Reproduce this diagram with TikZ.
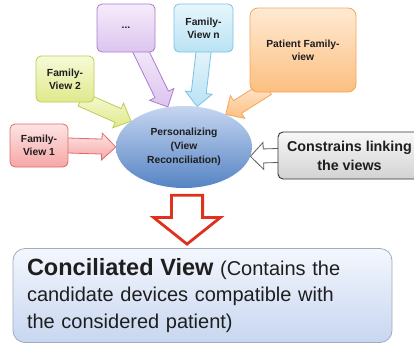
\documentclass[tikz,border=0pt]{standalone}
\usepackage{fontspec}
\setmainfont{Liberation Sans}
\usetikzlibrary{shapes.geometric,calc}
\pgfdeclarelayer{background}
\pgfsetlayers{background,main}

% box and arrow palettes: light top, deeper bottom, border
\definecolor{redTop}{HTML}{FDE4E4}\definecolor{redBot}{HTML}{F6A6A6}\definecolor{redLine}{HTML}{E06A6A}
\definecolor{ylwTop}{HTML}{F7FAD8}\definecolor{ylwBot}{HTML}{DFE98B}\definecolor{ylwLine}{HTML}{BCCD55}
\definecolor{vioTop}{HTML}{F6ECFB}\definecolor{vioBot}{HTML}{DCC4EF}\definecolor{vioLine}{HTML}{A87DCC}
\definecolor{cyaTop}{HTML}{E8F6FC}\definecolor{cyaBot}{HTML}{B9E2F4}\definecolor{cyaLine}{HTML}{78C3E2}
\definecolor{orgTop}{HTML}{FFEAD4}\definecolor{orgBot}{HTML}{FCBF80}\definecolor{orgLine}{HTML}{F5A65B}
\definecolor{gryTop}{HTML}{F8F8F8}\definecolor{gryBot}{HTML}{D2D2D2}\definecolor{gryLine}{HTML}{333333}
\definecolor{ellTop}{HTML}{C6D6F0}\definecolor{ellBot}{HTML}{5584C4}
\definecolor{conTop}{HTML}{F4F7FD}\definecolor{conBot}{HTML}{C7D6F0}\definecolor{conLine}{HTML}{9FABBF}
\definecolor{bigRed}{HTML}{E0301E}
\definecolor{ink}{HTML}{1E1E1E}

% block arrow: [tail extension]{style}{tail}{tip}{shaft half width}{head half width}{head length}
\newcommand\fatarrow[7][8pt]{%
  \coordinate (fa-t) at ($(#3)!-#1!(#4)$);
  \coordinate (fa-h) at ($(#4)!#7!(fa-t)$);
  \path[#2] ($(fa-t)!#5!90:(#4)$) -- ($(fa-h)!#5!90:(#4)$) -- ($(fa-h)!#6!90:(#4)$)
    -- (#4) -- ($(fa-h)!#6!-90:(#4)$) -- ($(fa-h)!#5!-90:(#4)$) -- ($(fa-t)!#5!-90:(#4)$) -- cycle;
}

\begin{document}
\begin{tikzpicture}[x=1pt,y=-1pt,
  every node/.style={text=ink, inner sep=0pt},
  viewbox/.style={draw, line width=0.8pt, rounded corners=5pt, align=center,
    font=\fontsize{10.3}{13}\selectfont\bfseries},
  tint/.style n args={3}{top color=#1, bottom color=#2, draw=#3},
  arrowpaint/.style n args={3}{top color=#1, bottom color=#2, draw=#3, line width=0.8pt, line join=miter}
]
\useasboundingbox (0,0) rectangle (414,343);

% central reconciliation step
\node[ellipse, minimum width=136pt, minimum height=82pt, top color=ellTop, bottom color=ellBot,
  align=center, font=\fontsize{10.3}{14}\selectfont\bfseries] (ell) at (184,147)
  {Personalizing\\(View\\Reconciliation)};

% input views
\node[viewbox, tint={redTop}{redBot}{redLine}, minimum width=58pt, minimum height=43pt] (fv1) at (39,145.5) {Family-\\View 1};
\node[viewbox, tint={ylwTop}{ylwBot}{ylwLine}, minimum width=58pt, minimum height=46pt] (fv2) at (65,79) {Family-\\View 2};
\node[viewbox, tint={vioTop}{vioBot}{vioLine}, minimum width=58pt, minimum height=48pt] (dots) at (126,28) {...};
\node[viewbox, tint={cyaTop}{cyaBot}{cyaLine}, minimum width=59pt, minimum height=48pt] (fvn) at (203.5,28) {Family-\\View n};
\node[viewbox, tint={orgTop}{orgBot}{orgLine}, minimum width=106pt, minimum height=84pt, rounded corners=8pt] (pat) at (303,50) {Patient Family-\\view};

% constraints box
\node[draw, line width=0.9pt, rounded corners=5pt, tint={gryTop}{gryBot}{gryLine},
  minimum width=143pt, minimum height=47pt, align=center,
  font=\fontsize{14.3}{19}\selectfont\bfseries] (cons) at (349.5,155.5) {Constrains linking\\the views};

% result
\node[draw, line width=0.8pt, rounded corners=12pt, tint={conTop}{conBot}{conLine},
  minimum width=379pt, minimum height=94pt, text width=351pt, align=left,
  font=\fontsize{20}{26.5}\selectfont] (conc) at (202.5,295.5)
  {{\fontsize{23.5}{26.5}\selectfont\bfseries Conciliated View} (Contains the\\candidate devices compatible with\\the considered patient)};

% feeding arrows, tucked under the boxes
\begin{pgfonlayer}{background}
  \fatarrow{arrowpaint={redTop}{redBot}{redLine}}{fv1.east}{ell.west}{7.5pt}{13.5pt}{14pt}
  \fatarrow{arrowpaint={ylwTop}{ylwBot}{ylwLine}}{fv2.-45}{ell.154}{7.5pt}{13.5pt}{14pt}
  \fatarrow{arrowpaint={vioTop}{vioBot}{vioLine}}{dots.-58}{ell.112}{7.5pt}{13.5pt}{14pt}
  \fatarrow{arrowpaint={cyaTop}{cyaBot}{cyaLine}}{fvn.south}{ell.72}{7.5pt}{13.5pt}{14pt}
  \fatarrow{arrowpaint={orgTop}{orgBot}{orgLine}}{pat.-135}{ell.38}{7.5pt}{13.5pt}{14pt}
  \fatarrow{draw=gryLine!80, fill=white, line width=0.8pt, line join=miter}{cons.west}{ell.-8}{7pt}{13.5pt}{13pt}
\end{pgfonlayer}

% hollow arrow down to the result
\coordinate (rt) at ($(ell.south)+(3,7)$);
\coordinate (rh) at ($(rt |- conc.north)+(0,-4)$);
\fatarrow[0pt]{draw=bigRed, fill=white, line width=2.8pt, line join=miter}{rt}{rh}{15.6pt}{33.5pt}{26.7pt}
\end{tikzpicture}
\end{document}
